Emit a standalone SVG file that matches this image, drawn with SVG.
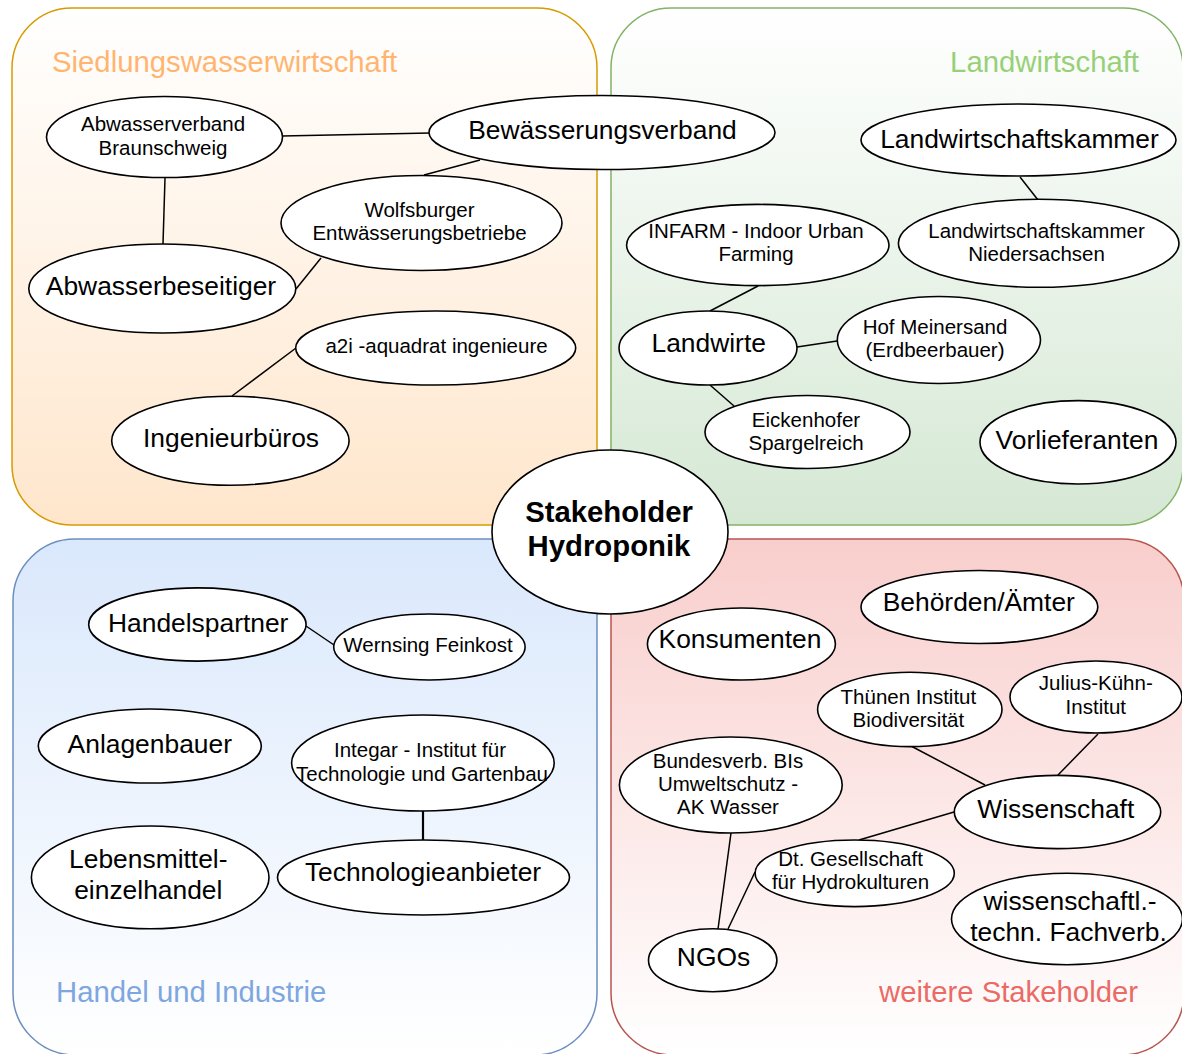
<svg xmlns="http://www.w3.org/2000/svg" width="1182" height="1054" viewBox="0 0 1182 1054">
<style>
.node ellipse{fill:#ffffff;stroke:#000000;stroke-width:1.6}
.t{font-family:"Liberation Sans",Arial,Helvetica,sans-serif;fill:#000000;text-anchor:middle}
.s{font-size:20.5px}
.l{font-size:26.4px}
.title{font-family:"Liberation Sans",Arial,Helvetica,sans-serif;font-size:29.3px}
#edges line{stroke:#000000;stroke-width:1.5}
</style>
<defs>
<linearGradient id="gOrange" x1="0" y1="0" x2="0" y2="1"><stop offset="0" stop-color="#ffffff"/><stop offset="1" stop-color="#ffe6cc"/></linearGradient>
<linearGradient id="gGreen" x1="0" y1="0" x2="0" y2="1"><stop offset="0" stop-color="#ffffff"/><stop offset="1" stop-color="#d5e8d4"/></linearGradient>
<linearGradient id="gBlue" x1="0" y1="0" x2="0" y2="1"><stop offset="0" stop-color="#dae8fc"/><stop offset="1" stop-color="#ffffff"/></linearGradient>
<linearGradient id="gRed" x1="0" y1="0" x2="0" y2="1"><stop offset="0" stop-color="#f8cecc"/><stop offset="1" stop-color="#ffffff"/></linearGradient>
</defs>

<g id="areas">
<g id="area-siedlung">
<rect x="12" y="8" width="585" height="517" rx="60" ry="60" fill="url(#gOrange)" stroke="#d79b00" stroke-width="1.5"/>
<text class="title" x="52" y="72" fill="#ffb570">Siedlungswasserwirtschaft</text>
</g>
<g id="area-landwirtschaft">
<rect x="611" y="8" width="572" height="517" rx="60" ry="60" fill="url(#gGreen)" stroke="#82b366" stroke-width="1.5"/>
<text class="title" x="1139" y="72" fill="#97d077" text-anchor="end">Landwirtschaft</text>
</g>
<g id="area-handel">
<rect x="13" y="539" width="584" height="516" rx="62" ry="62" fill="url(#gBlue)" stroke="#6c8ebf" stroke-width="1.5"/>
<text class="title" x="56" y="1002" fill="#7ea6e0">Handel und Industrie</text>
</g>
<g id="area-weitere">
<rect x="611" y="539" width="573" height="516" rx="62" ry="62" fill="url(#gRed)" stroke="#b85450" stroke-width="1.5"/>
<text class="title" x="1138" y="1002" fill="#ea6b66" text-anchor="end">weitere Stakeholder</text>
</g>
</g>

<g id="edges">
<line x1="282" y1="136" x2="430" y2="133"/>
<line x1="165" y1="178" x2="163" y2="244"/>
<line x1="480" y1="160" x2="424" y2="175"/>
<line x1="321" y1="258" x2="296" y2="289"/>
<line x1="296" y1="348" x2="232" y2="396"/>
<line x1="1020" y1="177" x2="1038" y2="200"/>
<line x1="758" y1="286" x2="710" y2="311"/>
<line x1="797" y1="347" x2="837" y2="341"/>
<line x1="710" y1="385" x2="734" y2="406"/>
<line x1="306" y1="626" x2="334" y2="645"/>
<line x1="423" y1="811" x2="423" y2="840" style="stroke-width:2.2"/>
<line x1="911" y1="746" x2="985" y2="785"/>
<line x1="1098" y1="734" x2="1058" y2="775"/>
<line x1="954" y1="812" x2="859" y2="840"/>
<line x1="731" y1="833" x2="718" y2="929"/>
<line x1="755" y1="872" x2="728" y2="929"/>
</g>

<g id="nodes">
<g id="n-abwasserverband" class="node">
<ellipse cx="164.5" cy="137" rx="118" ry="40.5"/>
<text class="t s" x="163" y="131">Abwasserverband</text>
<text class="t s" x="163" y="155">Braunschweig</text>
</g>
<g id="n-bewaesserungsverband" class="node">
<ellipse cx="602" cy="132.5" rx="173" ry="37"/>
<text class="t l" x="602.5" y="138.5">Bewässerungsverband</text>
</g>
<g id="n-wolfsburger" class="node">
<ellipse cx="421.5" cy="223" rx="140.5" ry="47.5"/>
<text class="t s" x="419.5" y="217">Wolfsburger</text>
<text class="t s" x="419.5" y="240">Entwässerungsbetriebe</text>
</g>
<g id="n-abwasserbeseitiger" class="node">
<ellipse cx="162.3" cy="288.5" rx="133.5" ry="44.5"/>
<text class="t l" x="161" y="295">Abwasserbeseitiger</text>
</g>
<g id="n-a2i" class="node">
<ellipse cx="435.7" cy="348" rx="140" ry="37"/>
<text class="t s" x="436.5" y="353">a2i -aquadrat ingenieure</text>
</g>
<g id="n-ingenieurbueros" class="node">
<ellipse cx="230.4" cy="440.7" rx="118.7" ry="44.5"/>
<text class="t l" x="231" y="447">Ingenieurbüros</text>
</g>
<g id="n-lwk" class="node">
<ellipse cx="1018.5" cy="140" rx="157.5" ry="36"/>
<text class="t l" x="1019.5" y="147.5">Landwirtschaftskammer</text>
</g>
<g id="n-lwk-nds" class="node">
<ellipse cx="1038.7" cy="243.3" rx="140.3" ry="44"/>
<text class="t s" x="1036.5" y="238.3">Landwirtschaftskammer</text>
<text class="t s" x="1036.5" y="261.3">Niedersachsen</text>
</g>
<g id="n-infarm" class="node">
<ellipse cx="757.8" cy="245" rx="131.2" ry="40.6"/>
<text class="t s" x="756" y="237.7">INFARM - Indoor Urban</text>
<text class="t s" x="756" y="261.3">Farming</text>
</g>
<g id="n-landwirte" class="node">
<ellipse cx="708" cy="348" rx="89" ry="37"/>
<text class="t l" x="708.7" y="351.6">Landwirte</text>
</g>
<g id="n-hof" class="node">
<ellipse cx="938.9" cy="340" rx="101.6" ry="43.5"/>
<text class="t s" x="935" y="334">Hof Meinersand</text>
<text class="t s" x="935" y="357">(Erdbeerbauer)</text>
</g>
<g id="n-eickenhofer" class="node">
<ellipse cx="807.5" cy="432" rx="102.5" ry="36.5"/>
<text class="t s" x="806" y="426.6">Eickenhofer</text>
<text class="t s" x="806" y="449.6">Spargelreich</text>
</g>
<g id="n-vorlieferanten" class="node">
<ellipse cx="1078" cy="442.3" rx="98" ry="41.7"/>
<text class="t l" x="1077" y="449">Vorlieferanten</text>
</g>
<g id="n-handelspartner" class="node">
<ellipse cx="197.4" cy="624.5" rx="108.7" ry="36.6"/>
<text class="t l" x="198.2" y="631.7">Handelspartner</text>
</g>
<g id="n-wernsing" class="node">
<ellipse cx="429.4" cy="647" rx="95.7" ry="33"/>
<text class="t s" x="428" y="652">Wernsing Feinkost</text>
</g>
<g id="n-anlagenbauer" class="node">
<ellipse cx="149.8" cy="746" rx="111.5" ry="37"/>
<text class="t l" x="149.8" y="752.6">Anlagenbauer</text>
</g>
<g id="n-integar" class="node">
<ellipse cx="422.9" cy="763" rx="131.3" ry="48"/>
<text class="t s" x="420" y="757.4">Integar - Institut für</text>
<text class="t s" x="422" y="780.6">Technologie und Gartenbau</text>
</g>
<g id="n-technologieanbieter" class="node">
<ellipse cx="423.5" cy="877.5" rx="146" ry="37.5"/>
<text class="t l" x="423" y="881">Technologieanbieter</text>
</g>
<g id="n-lebensmittel" class="node">
<ellipse cx="150.2" cy="877.4" rx="118.8" ry="51.4"/>
<text class="t l" x="148.3" y="868">Lebensmittel-</text>
<text class="t l" x="148.3" y="898.7">einzelhandel</text>
</g>
<g id="n-behoerden" class="node">
<ellipse cx="979.4" cy="607" rx="118.4" ry="36.5"/>
<text class="t l" x="978.8" y="611.3">Behörden/Ämter</text>
</g>
<g id="n-konsumenten" class="node">
<ellipse cx="741.4" cy="644" rx="94" ry="36"/>
<text class="t l" x="740" y="647.7">Konsumenten</text>
</g>
<g id="n-thuenen" class="node">
<ellipse cx="909.8" cy="709.4" rx="92.2" ry="37.2"/>
<text class="t s" x="908.4" y="704">Thünen Institut</text>
<text class="t s" x="908.4" y="727">Biodiversität</text>
</g>
<g id="n-julius" class="node">
<ellipse cx="1096" cy="697" rx="86" ry="36"/>
<text class="t s" x="1095.8" y="690.3">Julius-Kühn-</text>
<text class="t s" x="1095.8" y="714">Institut</text>
</g>
<g id="n-bundesverb" class="node">
<ellipse cx="730.8" cy="785" rx="111.4" ry="48"/>
<text class="t s" x="728" y="767.6">Bundesverb. BIs</text>
<text class="t s" x="728" y="790.8">Umweltschutz -</text>
<text class="t s" x="728" y="814">AK Wasser</text>
</g>
<g id="n-wissenschaft" class="node">
<ellipse cx="1057.5" cy="812" rx="103.2" ry="36.6"/>
<text class="t l" x="1055.8" y="818">Wissenschaft</text>
</g>
<g id="n-dtges" class="node">
<ellipse cx="854.7" cy="873.3" rx="99.6" ry="33.3"/>
<text class="t s" x="850.5" y="865.7">Dt. Gesellschaft</text>
<text class="t s" x="850.5" y="888.9">für Hydrokulturen</text>
</g>
<g id="n-fachverb" class="node">
<ellipse cx="1067" cy="919" rx="115.5" ry="45.7"/>
<text class="t l" x="1070" y="910">wissenschaftl.-</text>
<text class="t l" x="1068.5" y="941.3">techn. Fachverb.</text>
</g>
<g id="n-ngos" class="node">
<ellipse cx="712.7" cy="960.2" rx="64.2" ry="31.5"/>
<text class="t l" x="713.5" y="966.2">NGOs</text>
</g>
<g id="n-center" class="node">
<ellipse cx="610" cy="532" rx="118" ry="82"/>
<text class="t" x="609" y="522" style="font-size:29.3px;font-weight:bold">Stakeholder</text>
<text class="t" x="609" y="556" style="font-size:29.3px;font-weight:bold">Hydroponik</text>
</g>
</g>
</svg>
